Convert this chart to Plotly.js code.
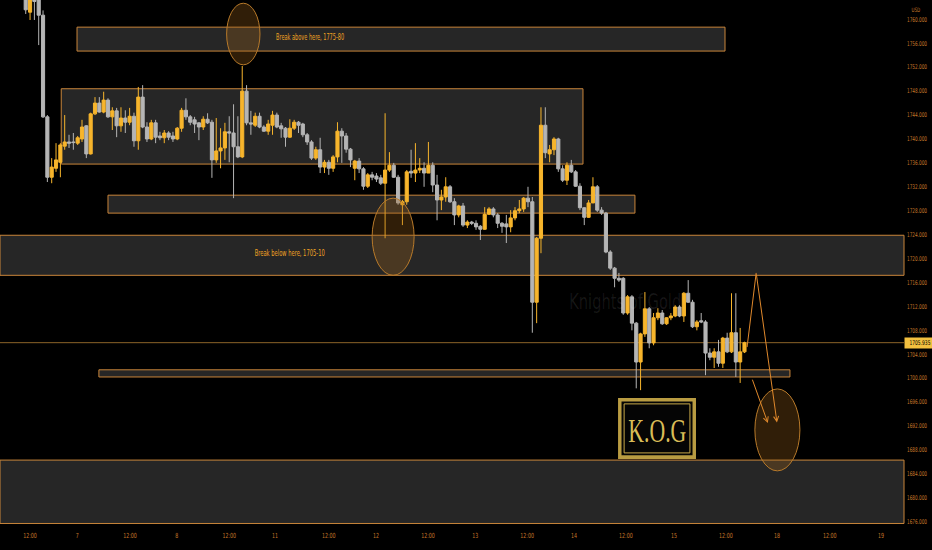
<!DOCTYPE html>
<html>
<head>
<meta charset="utf-8">
<script src="https://cdn.plot.ly/plotly-3.0.1.min.js"></script>
<style>
html,body{margin:0;padding:0;background:#000;}
#chart{width:932px;height:550px;}
</style>
</head>
<body>
<div id="chart"></div>
<script>
// ---- Data (XAU/USD hourly candles) ----
const openP = [1765.0,1761.2,1764.5,1763.8,1760.7,1743.7,1733.6,1735.1,1736.1,1738.8,
1739.5,1739.5,1739.3,1740.0,1742.2,1737.5,1744.2,1746.0,1744.5,1746.5,
1743.7,1744.7,1742.2,1743.5,1742.8,1743.8,1739.7,1747.0,1742.0,1740.0,
1742.7,1740.5,1740.2,1741.0,1740.5,1740.0,1741.8,1744.8,1743.7,1743.2,
1742.7,1742.0,1743.3,1742.8,1736.5,1738.0,1738.5,1741.2,1741.0,1738.7,
1737.0,1748.0,1742.7,1742.3,1743.8,1742.0,1741.3,1742.3,1744.0,1742.2,
1741.8,1740.3,1741.8,1742.8,1742.5,1740.7,1739.5,1736.8,1738.2,1735.3,
1736.1,1735.1,1737.0,1741.3,1740.5,1738.3,1735.1,1736.3,1735.0,1732.1,
1734.0,1733.8,1733.5,1732.6,1734.8,1735.6,1733.6,1729.0,1729.5,1734.6,
1734.3,1734.8,1735.1,1734.3,1735.6,1732.3,1729.8,1730.3,1732.0,1729.5,
1727.3,1728.8,1725.6,1726.1,1725.9,1725.4,1724.9,1727.4,1728.3,1727.3,
1725.9,1725.8,1725.3,1726.8,1728.0,1728.3,1730.1,1729.5,1712.7,1723.4,
1742.3,1737.5,1738.2,1740.0,1735.0,1733.1,1735.6,1734.5,1732.1,1728.5,
1726.9,1729.3,1732.0,1728.1,1727.6,1721.1,1718.4,1716.7,1716.7,1710.9,
1713.6,1709.2,1702.7,1707.4,1711.6,1705.9,1710.1,1710.9,1709.1,1710.1,
1710.4,1711.9,1710.4,1714.2,1712.7,1708.6,1709.6,1709.4,1704.2,1703.5,
1704.4,1702.5,1706.7,1704.4,1707.6,1702.7,1704.4];

const closeP = [1761.6,1764.5,1763.0,1760.7,1743.7,1733.6,1735.3,1736.5,1739.0,1739.5,
1739.3,1739.4,1740.2,1742.0,1737.5,1744.2,1746.0,1744.5,1746.5,1743.7,
1744.7,1742.2,1743.5,1742.8,1743.8,1739.7,1747.0,1742.0,1740.0,1742.7,
1740.3,1740.2,1741.0,1740.3,1740.0,1741.8,1744.8,1743.7,1742.8,1742.5,
1742.0,1743.3,1742.7,1736.5,1738.0,1738.5,1741.2,1741.0,1738.7,1737.0,
1748.0,1742.7,1742.5,1743.8,1742.0,1741.3,1742.5,1744.0,1742.0,1741.7,
1740.3,1741.8,1742.8,1742.3,1740.7,1739.5,1736.8,1738.2,1735.3,1736.1,
1735.1,1737.0,1741.3,1740.5,1738.3,1736.5,1736.3,1735.0,1732.1,1734.0,
1733.6,1733.3,1732.6,1734.8,1735.6,1733.6,1729.3,1729.5,1734.5,1734.3,
1734.8,1735.1,1734.3,1735.6,1732.3,1729.8,1730.3,1732.0,1729.5,1727.3,
1728.8,1725.6,1726.1,1725.9,1725.3,1724.9,1727.4,1728.3,1727.3,1725.9,
1725.4,1725.3,1726.8,1728.0,1728.3,1730.1,1729.5,1712.7,1723.4,1742.3,
1737.7,1738.2,1740.0,1735.0,1733.1,1735.6,1734.5,1732.1,1728.5,1726.9,
1729.3,1732.0,1728.1,1727.6,1721.1,1718.4,1716.7,1716.4,1710.9,1713.6,
1709.2,1702.7,1707.4,1711.6,1705.9,1710.1,1710.9,1709.1,1710.1,1710.4,
1711.9,1710.4,1714.2,1712.7,1708.6,1709.4,1709.4,1704.2,1703.5,1704.4,
1702.5,1706.7,1704.4,1707.6,1702.7,1704.4,1705.935];

const highP = [1766.5,1765.5,1766.0,1765.0,1761.5,1744.0,1736.8,1739.3,1739.3,1744.0,
1740.7,1741.0,1740.5,1743.2,1742.3,1744.4,1747.0,1747.0,1747.9,1746.8,
1745.3,1745.2,1745.3,1744.8,1745.2,1744.4,1748.7,1749.0,1742.8,1743.2,
1743.2,1741.2,1741.5,1741.3,1741.2,1742.0,1745.2,1746.8,1744.0,1743.7,
1742.8,1743.8,1744.3,1743.2,1743.5,1741.8,1742.7,1743.8,1745.8,1743.8,
1752.2,1749.0,1744.7,1744.4,1744.4,1742.3,1743.2,1744.7,1744.4,1742.7,
1742.0,1743.3,1743.2,1743.0,1742.7,1741.0,1739.8,1738.7,1740.2,1736.5,
1736.5,1737.3,1742.8,1741.8,1741.0,1738.5,1736.5,1736.8,1735.3,1734.3,
1734.5,1734.3,1734.0,1744.3,1737.8,1736.0,1734.0,1729.8,1734.8,1738.2,
1739.3,1736.8,1736.1,1739.5,1736.1,1734.0,1731.5,1733.6,1732.3,1730.1,
1729.0,1729.3,1726.4,1726.3,1726.4,1725.6,1728.6,1728.6,1728.6,1727.6,
1726.1,1727.3,1728.1,1728.6,1729.8,1730.3,1732.0,1730.3,1723.6,1745.3,
1745.3,1739.0,1740.3,1740.2,1735.6,1736.1,1736.5,1734.8,1732.6,1728.6,
1729.8,1733.6,1732.3,1728.6,1727.8,1721.4,1718.6,1717.6,1716.9,1713.9,
1713.9,1709.4,1707.6,1714.4,1711.9,1710.9,1711.7,1711.4,1710.2,1710.9,
1712.2,1712.2,1714.4,1716.4,1713.1,1709.7,1710.9,1709.7,1705.0,1705.0,
1706.4,1706.9,1707.6,1714.2,1714.2,1708.4,1706.1];

const lowP = [1760.9,1759.9,1759.9,1755.7,1743.5,1732.8,1732.6,1734.5,1733.6,1738.2,
1738.5,1738.2,1739.0,1739.5,1736.8,1737.4,1744.0,1744.4,1744.3,1743.5,
1741.5,1740.3,1741.2,1741.0,1742.3,1738.7,1738.2,1741.8,1739.5,1739.8,
1739.3,1739.8,1739.3,1739.8,1739.5,1739.8,1741.2,1743.2,1742.3,1741.0,
1739.8,1741.5,1742.5,1733.5,1736.0,1735.1,1736.5,1736.1,1730.1,1736.8,
1736.8,1742.3,1740.7,1742.0,1741.8,1741.2,1740.7,1740.7,1741.8,1740.2,
1738.7,1740.2,1741.5,1741.0,1740.3,1739.0,1736.5,1736.5,1734.3,1734.3,
1734.0,1734.5,1736.1,1736.0,1737.7,1735.3,1733.1,1734.3,1731.5,1731.8,
1733.1,1732.8,1732.3,1723.4,1734.5,1733.5,1729.0,1725.6,1729.0,1733.5,
1732.8,1734.3,1732.0,1734.3,1731.1,1726.4,1728.1,1729.5,1729.3,1725.6,
1726.9,1725.3,1725.1,1725.6,1724.8,1723.1,1724.8,1727.3,1726.9,1725.1,
1724.3,1722.6,1724.4,1726.4,1727.6,1727.8,1728.6,1707.6,1709.2,1720.9,
1736.8,1736.1,1737.3,1734.5,1732.8,1732.3,1734.3,1732.0,1728.1,1725.6,
1726.8,1729.3,1727.8,1727.3,1720.9,1718.1,1715.2,1716.1,1710.6,1710.6,
1708.0,1698.3,1698.0,1706.9,1705.0,1705.5,1709.7,1708.9,1708.9,1709.7,
1710.2,1710.2,1709.4,1712.6,1708.4,1708.0,1709.2,1700.5,1703.0,1701.7,
1701.9,1701.7,1704.2,1704.2,1700.2,1699.2,1704.2];

const lastPrice = 1705.935;

// x-axis labels (session days / noon marks) and the bar index where each falls
const tickLabels = ['12:00','7','12:00','8','12:00','11','12:00','12','12:00','13','12:00','14','12:00','15','12:00','18','12:00','19'];
const tickBars   = [1, 11.9, 24.1, 34.9, 47, 57.6, 70, 80.9, 92.9, 103.8, 115.8, 126.6, 138.6, 149.7, 161.7, 173.5, 185.7, 197.5];

// annotation texts
const noteAbove = 'Break above here, 1775-80';
const noteBelow = 'Break below here, 1705-10';
const watermark = 'Knights of Gold';
const logoText  = 'K.O.G';

// ---- Styling ----
const YEL = '#f7b52c';
const GRY = '#b5b5b5';
const ORG = '#c9853a';
const BOXFILL = 'rgba(40,40,40,0.95)';
const LBL = '#c8792a';
const NARROW = "'Liberation Sans Narrow','DejaVu Sans Condensed','Roboto Condensed','Arial Narrow',sans-serif";

const barIdx = openP.map((_, i) => i);

const trace = {
  type: 'candlestick',
  x: barIdx, open: openP, high: highP, low: lowP, close: closeP,
  increasing: {line: {color: YEL, width: 1}, fillcolor: YEL},
  decreasing: {line: {color: GRY, width: 1}, fillcolor: GRY},
  whiskerwidth: 0,
  hoverinfo: 'skip',
  showlegend: false
};

function box(x0, x1, y0, y1, xref) {
  return {type: 'rect', xref: xref || 'x', yref: 'y', x0, x1, y0, y1,
    fillcolor: BOXFILL, line: {color: ORG, width: 1}, layer: 'below'};
}
function ell(x0, x1, y0, y1) {
  return {type: 'circle', xref: 'x', yref: 'y', x0, x1, y0, y1,
    fillcolor: 'rgba(160,100,25,0.30)', line: {color: '#b87a2a', width: 1}, layer: 'above'};
}

const shapes = [
  box(11.85, 161.5, 1754.7, 1758.7),
  box(8.2, 128.7, 1735.8, 1748.4),
  box(19.0, 140.7, 1727.6, 1730.6),
  box(0, 1, 1717.2, 1723.9, 'paper'),
  box(16.9, 176.5, 1700.2, 1701.4),
  box(0, 1, 1675.7, 1686.3, 'paper'),
  // last price line
  {type: 'line', xref: 'paper', yref: 'y', x0: 0, x1: 1, y0: lastPrice, y1: lastPrice,
    line: {color: '#8c6428', width: 1}, layer: 'below'},
  ell(46.4, 54.1, 1752.4, 1762.7),
  ell(80.0, 89.7, 1717.2, 1730.1),
  ell(168.4, 178.8, 1684.5, 1698.2),
  // projected path first leg
  {type: 'line', xref: 'x', yref: 'y', x0: 166.6, y0: 1705.2, x1: 168.7, y1: 1717.6,
    line: {color: '#e0892c', width: 1}, layer: 'above'},
  // K.O.G logo frame
  {type: 'rect', xref: 'x', yref: 'y', x0: 136.8, x1: 154.8, y0: 1686.5, y1: 1696.7,
    fillcolor: '#b99c42', line: {width: 0}, layer: 'above'},
  {type: 'rect', xref: 'x', yref: 'y', x0: 137.6, x1: 154.0, y0: 1687.1, y1: 1696.1,
    fillcolor: '#050505', line: {width: 0}, layer: 'above'},
  {type: 'rect', xref: 'x', yref: 'y', x0: 138.2, x1: 153.4, y0: 1687.5, y1: 1695.7,
    fillcolor: 'rgba(0,0,0,0)', line: {color: '#c9aa4a', width: 1}, layer: 'above'}
];

const annotations = [
  {x: 65.7, y: 1756.9, xref: 'x', yref: 'y', text: noteAbove, showarrow: false,
    font: {family: NARROW, size: 8, color: '#f0a323'}},
  {x: 61.0, y: 1720.9, xref: 'x', yref: 'y', text: noteBelow, showarrow: false,
    font: {family: NARROW, size: 8, color: '#f0a323'}},
  {x: 138.4, y: 1712.7, xref: 'x', yref: 'y', text: watermark, showarrow: false,
    font: {family: NARROW, size: 21, color: 'rgba(255,255,255,0.09)'}},
  {x: 145.8, y: 1691.3, xref: 'x', yref: 'y', text: logoText, showarrow: false,
    font: {family: "'Liberation Serif',serif", size: 34, color: '#d9bd57'}},
  // arrows
  {x: 173.5, y: 1692.6, ax: 168.7, ay: 1717.6, xref: 'x', yref: 'y', axref: 'x', ayref: 'y',
    text: '', showarrow: true, arrowhead: 5, arrowsize: 1, arrowwidth: 1, arrowcolor: '#e0892c'},
  {x: 171.4, y: 1692.5, ax: 167.7, ay: 1700.0, xref: 'x', yref: 'y', axref: 'x', ayref: 'y',
    text: '', showarrow: true, arrowhead: 5, arrowsize: 1, arrowwidth: 1, arrowcolor: '#e0892c'},
  // last price tag
  {x: 1, xref: 'paper', xanchor: 'left', y: lastPrice, yref: 'y', text: lastPrice.toFixed(3),
    showarrow: false, bgcolor: '#f3c03f', borderpad: 1,
    font: {family: NARROW, size: 6.5, color: '#000'}},
  // currency
  {x: 1, xref: 'paper', xanchor: 'left', xshift: 4, y: 1, yref: 'paper', yanchor: 'top', yshift: -4,
    text: 'USD', showarrow: false, font: {family: NARROW, size: 6, color: LBL}}
];

const layout = {
  width: 932, height: 550,
  margin: {l: 0, r: 28, t: 0, b: 20},
  paper_bgcolor: '#000', plot_bgcolor: '#000',
  showlegend: false,
  boxgap: 0.28, boxgroupgap: 0,
  font: {family: NARROW, color: LBL, size: 7},
  xaxis: {
    range: [-5.94, 202.84], showgrid: false, zeroline: false, showline: false,
    tickmode: 'array', tickvals: tickBars, ticktext: tickLabels, ticks: '',
    tickfont: {family: NARROW, size: 7, color: LBL},
    rangeslider: {visible: false}, fixedrange: true
  },
  yaxis: {
    side: 'right', range: [1674.61, 1763.24], showgrid: false, zeroline: false, showline: false,
    tick0: 1676, dtick: 4, tickformat: '.3f', ticks: '', ticklabelstandoff: 2,
    tickfont: {family: NARROW, size: 6.5, color: LBL}, fixedrange: true
  },
  shapes, annotations
};

function squeeze(el, factor) {
  const w = el.getComputedTextLength();
  if (w > 0) {
    el.setAttribute('textLength', (w * factor).toFixed(1));
    el.setAttribute('lengthAdjust', 'spacingAndGlyphs');
  }
}
function squeezeTo(el, width) {
  el.setAttribute('textLength', String(width));
  el.setAttribute('lengthAdjust', 'spacingAndGlyphs');
}

Plotly.newPlot('chart', [trace], layout, {displayModeBar: false, staticPlot: true}).then(() => {
  // the reference uses a very condensed face: compress the rendered labels to match
  document.querySelectorAll('.ytick text').forEach(t => squeezeTo(t, 20));
  document.querySelectorAll('.xtick text').forEach(t => squeeze(t, 0.75));
  document.querySelectorAll('.annotation-text').forEach(t => {
    const s = t.textContent;
    if (s === logoText) squeezeTo(t, 58);
    else if (s === noteAbove) squeezeTo(t, 68);
    else if (s === noteBelow) squeezeTo(t, 70);
    else if (s === watermark) squeezeTo(t, 112);
    else if (s === lastPrice.toFixed(3)) squeezeTo(t, 21);
    else if (s === 'USD') squeeze(t, 0.75);
  });
});
</script>
</body>
</html>
